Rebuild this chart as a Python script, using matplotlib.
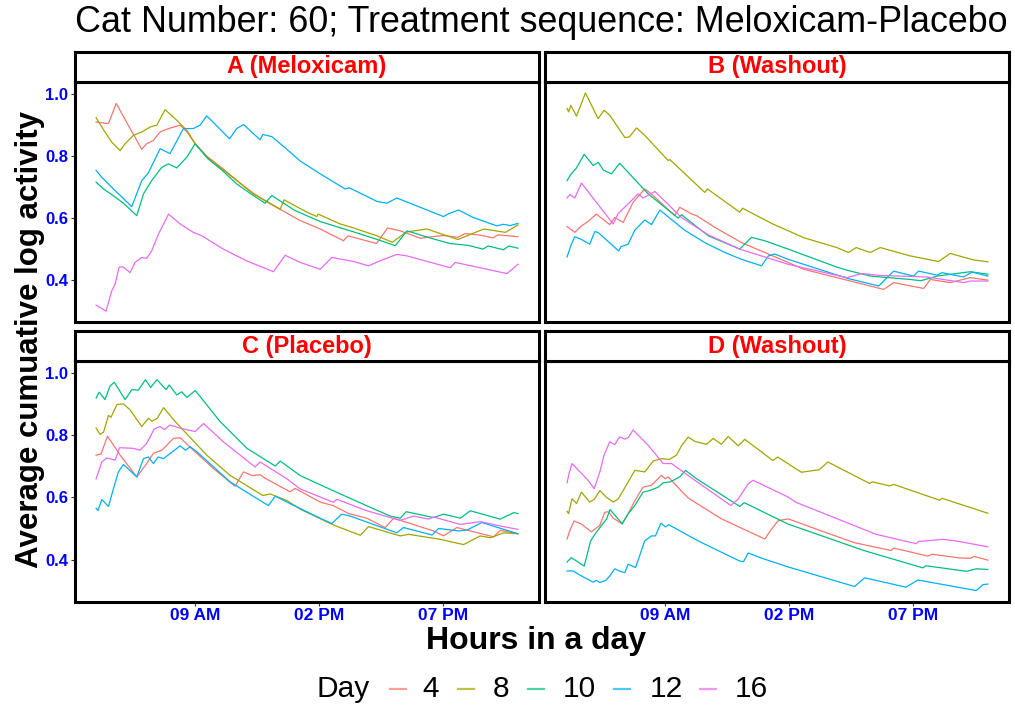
import matplotlib
matplotlib.use("Agg")
import matplotlib.pyplot as plt
from matplotlib.lines import Line2D

plt.rcParams['font.family'] = ['Liberation Sans', 'DejaVu Sans']

days = ["4", "8", "10", "12", "16"]
day_colors = ["#F8766D", "#A3A500", "#00BF7D", "#00B0F6", "#E76BF3"]
panel_titles = ["A (Meloxicam)", "B (Washout)", "C (Placebo)", "D (Washout)"]
hour_ticks = [9, 14, 19]
hour_labels = ["09 AM", "02 PM", "07 PM"]
value_ticks = [0.4, 0.6, 0.8, 1.0]

# hours of day and average cumulative log activity
panel_a = {
    "4": ([5.0, 5.5, 5.81, 6.84, 7.04, 7.3, 7.58, 7.92, 8.39, 8.66, 9.0, 9.46, 10.07, 10.67, 11.34, 11.9, 12.4,
           13.23, 14.03, 14.97, 15.15, 16.3, 16.75, 17.26, 18.07, 18.33, 19.0, 19.58, 19.86, 20.5, 21.0, 21.2, 22.0],
          [0.910, 0.905, 0.970, 0.822, 0.840, 0.850, 0.878, 0.889, 0.900, 0.878, 0.840, 0.800, 0.762, 0.722, 0.680,
           0.651, 0.629, 0.592, 0.565, 0.527, 0.543, 0.518, 0.568, 0.559, 0.535, 0.538, 0.544, 0.538, 0.550, 0.545,
           0.536, 0.546, 0.540]),
    "8": ([5.0, 5.3, 5.63, 5.97, 6.17, 6.5, 6.84, 7.18, 7.45, 7.78, 8.25, 8.66, 8.99, 9.46, 10.07, 10.67, 11.34,
           11.88, 12.42, 12.58, 13.5, 13.9, 13.95, 14.84, 15.31, 16.32, 16.94, 17.5, 18.33, 19.58, 20.63, 21.5, 22.0],
          [0.924, 0.885, 0.845, 0.818, 0.840, 0.867, 0.878, 0.894, 0.900, 0.950, 0.916, 0.883, 0.840, 0.797, 0.759,
           0.721, 0.678, 0.654, 0.629, 0.659, 0.619, 0.605, 0.613, 0.581, 0.570, 0.543, 0.522, 0.555, 0.565, 0.531,
           0.565, 0.554, 0.578]),
    "10": ([5.0, 5.3, 5.7, 6.1, 6.64, 6.91, 7.24, 7.65, 7.92, 8.25, 8.66, 8.99, 9.5, 10.07, 10.67, 11.3, 11.81,
            12.08, 13.0, 14.03, 15.24, 16.3, 17.06, 17.53, 18.5, 19.27, 20.0, 20.59, 20.8, 21.42, 21.63, 22.0],
           [0.716, 0.694, 0.672, 0.648, 0.608, 0.678, 0.721, 0.764, 0.775, 0.762, 0.797, 0.840, 0.792, 0.755, 0.710,
            0.675, 0.648, 0.673, 0.625, 0.589, 0.559, 0.532, 0.511, 0.559, 0.535, 0.518, 0.512, 0.500, 0.510, 0.498,
            0.510, 0.503]),
    "12": ([5.0, 5.23, 5.7, 6.44, 6.84, 7.1, 7.58, 7.98, 8.52, 8.92, 9.19, 9.46, 10.38, 10.67, 10.94, 11.61, 11.72,
            12.08, 12.69, 13.23, 14.03, 15.04, 15.2, 16.32, 16.72, 17.12, 19.0, 19.2, 19.61, 20.2, 21.15, 21.4, 21.7,
            22.0],
           [0.754, 0.732, 0.694, 0.637, 0.721, 0.745, 0.824, 0.808, 0.889, 0.889, 0.900, 0.930, 0.856, 0.889, 0.902,
            0.853, 0.870, 0.863, 0.822, 0.784, 0.743, 0.694, 0.698, 0.654, 0.648, 0.665, 0.605, 0.614, 0.626, 0.602,
            0.575, 0.580, 0.576, 0.583]),
    "16": ([5.0, 5.4, 5.63, 5.76, 5.93, 6.1, 6.37, 6.57, 6.84, 7.04, 7.24, 7.51, 7.92, 8.39, 8.92, 9.26, 10.13,
            11.07, 12.15, 12.62, 13.23, 14.03, 14.5, 15.38, 15.98, 16.38, 17.12, 17.53, 19.27, 19.48, 20.75, 21.56,
            22.0],
           [0.319, 0.300, 0.365, 0.386, 0.442, 0.442, 0.424, 0.457, 0.473, 0.470, 0.494, 0.548, 0.613, 0.581, 0.554,
            0.543, 0.500, 0.462, 0.427, 0.480, 0.457, 0.435, 0.473, 0.460, 0.446, 0.460, 0.483, 0.478, 0.440, 0.457,
            0.435, 0.421, 0.451]),
}

panel_b = {
    "4": ([5.04, 5.35, 5.62, 5.9, 6.22, 6.76, 6.96, 7.3, 7.7, 8.17, 8.44, 9.38, 9.58, 10.1, 10.26, 11.0, 12.07,
           13.95, 14.57, 15.91, 17.8, 18.2, 19.41, 19.68, 20.48, 21.29, 22.0],
          [0.573, 0.554, 0.575, 0.590, 0.613, 0.579, 0.602, 0.586, 0.651, 0.694, 0.678, 0.608, 0.635, 0.612, 0.608,
           0.570, 0.521, 0.457, 0.435, 0.408, 0.370, 0.392, 0.373, 0.402, 0.392, 0.408, 0.400]),
    "8": ([5.04, 5.1, 5.19, 5.42, 5.78, 6.29, 6.53, 6.76, 7.37, 7.55, 7.84, 8.17, 9.11, 9.18, 10.59, 10.7, 12.0,
           12.11, 13.28, 14.57, 15.91, 16.38, 16.69, 17.26, 17.66, 18.87, 20.01, 20.48, 21.43, 22.0],
          [0.954, 0.943, 0.964, 0.929, 1.004, 0.921, 0.948, 0.932, 0.860, 0.862, 0.891, 0.867, 0.786, 0.789, 0.683,
           0.694, 0.619, 0.632, 0.583, 0.537, 0.505, 0.489, 0.505, 0.489, 0.505, 0.478, 0.460, 0.486, 0.465, 0.459]),
    "10": ([5.04, 5.19, 5.42, 5.73, 6.09, 6.3, 6.5, 6.83, 7.16, 8.31, 9.52, 9.65, 10.73, 12.0, 12.47, 13.0, 13.95,
            15.91, 16.32, 17.26, 18.87, 19.3, 19.95, 21.29, 22.0],
           [0.721, 0.741, 0.762, 0.806, 0.770, 0.780, 0.755, 0.743, 0.777, 0.678, 0.600, 0.611, 0.543, 0.500, 0.538,
            0.527, 0.500, 0.442, 0.432, 0.413, 0.402, 0.398, 0.413, 0.427, 0.419]),
    "12": ([5.04, 5.19, 5.35, 5.6, 5.95, 6.16, 6.3, 7.12, 7.22, 7.5, 7.77, 8.17, 8.44, 8.78, 9.78, 10.59, 11.4,
            12.07, 12.88, 13.15, 13.41, 13.95, 16.32, 17.6, 18.2, 19.0, 19.21, 19.95, 20.15, 21.02, 21.36, 22.0],
           [0.475, 0.511, 0.540, 0.532, 0.516, 0.557, 0.553, 0.494, 0.508, 0.516, 0.561, 0.594, 0.579, 0.626, 0.561,
            0.521, 0.489, 0.467, 0.446, 0.478, 0.484, 0.467, 0.406, 0.381, 0.429, 0.413, 0.429, 0.416, 0.424, 0.410,
            0.426, 0.413]),
    "16": ([5.04, 5.15, 5.35, 5.62, 6.9, 7.1, 7.5, 7.9, 8.1, 8.58, 9.65, 10.73, 12.0, 13.95, 16.32, 16.92, 17.66,
            19.54, 21.02, 21.3, 22.0],
           [0.665, 0.676, 0.665, 0.713, 0.581, 0.615, 0.646, 0.678, 0.665, 0.686, 0.602, 0.546, 0.500, 0.451, 0.408,
            0.421, 0.415, 0.410, 0.392, 0.397, 0.397]),
}

panel_c = {
    "4": ([5.0, 5.2, 5.46, 5.97, 6.64, 7.04, 7.31, 7.65, 8.12, 8.39, 8.92, 9.73, 10.6, 10.94, 11.3, 11.61, 11.85,
           12.82, 13.02, 14.03, 14.57, 15.18, 15.91, 16.65, 16.99, 18.6, 19.0, 19.54, 21.02, 21.29, 22.0],
          [0.736, 0.740, 0.797, 0.736, 0.666, 0.709, 0.742, 0.752, 0.790, 0.792, 0.752, 0.693, 0.636, 0.682, 0.670,
           0.673, 0.660, 0.618, 0.629, 0.585, 0.573, 0.548, 0.533, 0.503, 0.533, 0.492, 0.476, 0.503, 0.473, 0.494,
           0.483]),
    "8": ([5.0, 5.16, 5.3, 5.5, 5.6, 5.84, 6.1, 6.37, 6.84, 7.11, 7.25, 7.47, 7.72, 8.19, 9.46, 10.4, 11.72, 12.02,
           12.69, 13.23, 14.57, 15.65, 15.98, 17.26, 17.6, 18.87, 19.81, 20.48, 20.9, 21.42, 22.0],
          [0.823, 0.803, 0.810, 0.864, 0.858, 0.899, 0.901, 0.882, 0.828, 0.855, 0.845, 0.855, 0.889, 0.844, 0.736,
           0.671, 0.606, 0.611, 0.590, 0.562, 0.511, 0.478, 0.506, 0.476, 0.481, 0.465, 0.448, 0.476, 0.470, 0.486,
           0.483]),
    "10": ([5.0, 5.12, 5.36, 5.56, 5.73, 6.17, 6.44, 6.7, 6.99, 7.2, 7.45, 7.82, 7.95, 8.25, 8.45, 8.66, 8.99, 9.19,
            10.0, 11.08, 12.22, 12.42, 13.23, 14.57, 15.91, 16.85, 17.26, 17.5, 18.6, 19.0, 19.68, 20.08, 21.29,
            21.83, 22.0],
           [0.920, 0.939, 0.915, 0.958, 0.971, 0.915, 0.947, 0.945, 0.979, 0.954, 0.979, 0.947, 0.962, 0.930, 0.940,
            0.922, 0.944, 0.925, 0.844, 0.758, 0.701, 0.717, 0.670, 0.621, 0.573, 0.540, 0.533, 0.554, 0.535, 0.546,
            0.533, 0.557, 0.530, 0.551, 0.548]),
    "12": ([5.0, 5.08, 5.23, 5.5, 5.7, 5.9, 6.1, 6.64, 6.91, 7.11, 7.31, 7.5, 7.72, 7.98, 8.39, 8.6, 8.79, 9.06,
            10.4, 11.75, 11.95, 12.22, 12.69, 14.03, 14.5, 14.9, 15.2, 17.12, 17.39, 18.54, 18.8, 19.61, 19.95, 20.55,
            22.0],
           [0.565, 0.558, 0.593, 0.571, 0.628, 0.682, 0.706, 0.666, 0.725, 0.730, 0.709, 0.730, 0.725, 0.741, 0.766,
            0.752, 0.763, 0.747, 0.650, 0.583, 0.574, 0.604, 0.585, 0.533, 0.516, 0.546, 0.541, 0.486, 0.503, 0.479,
            0.500, 0.492, 0.495, 0.519, 0.483]),
    "16": ([5.0, 5.23, 5.43, 5.77, 5.94, 6.5, 6.77, 7.04, 7.34, 7.58, 7.75, 7.98, 8.39, 8.99, 9.33, 10.13, 11.41,
            11.61, 12.69, 13.23, 14.57, 14.7, 15.91, 17.26, 17.8, 18.4, 18.6, 19.68, 20.48, 21.29, 22.0],
           [0.660, 0.714, 0.727, 0.720, 0.760, 0.758, 0.752, 0.774, 0.820, 0.828, 0.818, 0.833, 0.823, 0.812, 0.838,
            0.779, 0.698, 0.714, 0.660, 0.627, 0.584, 0.594, 0.557, 0.526, 0.540, 0.530, 0.537, 0.513, 0.522, 0.508,
            0.497]),
}

panel_d = {
    "4": ([5.04, 5.15, 5.32, 5.62, 6.02, 6.36, 6.56, 6.7, 6.9, 7.26, 7.5, 7.74, 8.1, 8.44, 8.84, 9.0, 9.11, 9.92,
           11.26, 13.01, 13.28, 13.55, 13.95, 15.22, 16.63, 18.1, 18.2, 19.58, 19.75, 20.86, 21.3, 21.45, 22.0],
          [0.466, 0.493, 0.524, 0.514, 0.489, 0.510, 0.552, 0.554, 0.533, 0.515, 0.547, 0.585, 0.633, 0.639, 0.671,
           0.660, 0.666, 0.598, 0.531, 0.466, 0.498, 0.525, 0.531, 0.494, 0.454, 0.429, 0.437, 0.411, 0.417, 0.405,
           0.404, 0.410, 0.398]),
    "8": ([5.04, 5.1, 5.24, 5.42, 5.62, 5.95, 6.15, 6.36, 6.63, 6.9, 7.1, 7.3, 7.77, 8.17, 8.51, 8.84, 9.15, 9.45,
           9.65, 9.92, 10.2, 10.66, 10.93, 11.26, 11.53, 11.94, 12.2, 13.33, 13.53, 14.48, 15.2, 15.55, 17.23, 17.35,
           18.04, 18.2, 20.05, 20.15, 22.0],
          [0.555, 0.548, 0.596, 0.580, 0.617, 0.585, 0.595, 0.622, 0.600, 0.585, 0.595, 0.622, 0.687, 0.682, 0.717,
           0.725, 0.722, 0.736, 0.766, 0.794, 0.780, 0.771, 0.790, 0.771, 0.796, 0.766, 0.787, 0.719, 0.730, 0.681,
           0.689, 0.714, 0.645, 0.650, 0.637, 0.642, 0.591, 0.597, 0.549]),
    "10": ([5.04, 5.21, 5.73, 5.99, 6.16, 6.42, 6.63, 6.77, 7.26, 7.5, 7.77, 8.1, 8.37, 8.71, 8.91, 9.2, 9.58, 9.81,
            10.26, 11.0, 12.0, 12.18, 13.95, 17.0, 19.38, 19.5, 21.13, 21.53, 22.0],
           [0.392, 0.406, 0.379, 0.460, 0.481, 0.509, 0.530, 0.561, 0.515, 0.547, 0.574, 0.617, 0.622, 0.633, 0.647,
            0.650, 0.666, 0.687, 0.660, 0.622, 0.571, 0.583, 0.514, 0.429, 0.373, 0.380, 0.362, 0.370, 0.368]),
    "12": ([5.04, 5.28, 5.62, 6.09, 6.22, 6.36, 6.6, 6.76, 6.96, 7.15, 7.37, 7.5, 7.8, 8.17, 8.44, 8.6, 8.82, 9.0,
            9.14, 10.32, 12.0, 12.15, 12.34, 12.93, 13.95, 16.63, 17.03, 18.7, 19.18, 21.53, 21.8, 22.0],
           [0.363, 0.363, 0.347, 0.327, 0.333, 0.326, 0.333, 0.347, 0.370, 0.363, 0.358, 0.385, 0.374, 0.460, 0.476,
            0.476, 0.517, 0.505, 0.512, 0.460, 0.395, 0.393, 0.421, 0.403, 0.376, 0.313, 0.341, 0.311, 0.334, 0.300,
            0.319, 0.321]),
    "16": ([5.04, 5.12, 5.24, 5.62, 5.89, 6.13, 6.36, 6.53, 6.76, 6.96, 7.16, 7.35, 7.5, 7.7, 8.31, 8.91, 9.25,
            10.19, 11.64, 11.94, 12.34, 12.54, 13.95, 14.27, 17.5, 19.11, 19.2, 20.19, 20.7, 22.0],
           [0.647, 0.677, 0.709, 0.677, 0.655, 0.628, 0.682, 0.736, 0.779, 0.770, 0.795, 0.788, 0.792, 0.817, 0.768,
            0.709, 0.709, 0.655, 0.574, 0.595, 0.644, 0.655, 0.601, 0.584, 0.481, 0.451, 0.458, 0.465, 0.460, 0.441]),
}

panels = [panel_a, panel_b, panel_c, panel_d]

# shared scales like facet_wrap, with ggplot's 5% expansion
all_t = [t for p in panels for d in days for t in p[d][0]]
all_v = [v for p in panels for d in days for v in p[d][1]]
tpad = 0.05 * (max(all_t) - min(all_t))
vpad = 0.05 * (max(all_v) - min(all_v))
xlim = (min(all_t) - tpad, max(all_t) + tpad)
ylim = (min(all_v) - vpad, max(all_v) + vpad)

W, H = 1015, 708
fig = plt.figure(figsize=(W / 100, H / 100), dpi=100)


def px_box(x0, y0, x1, y1):
    return [x0 / W, 1 - y1 / H, (x1 - x0) / W, (y1 - y0) / H]


cols = [(75, 539), (545, 1009)]
rows = [(52, 82, 322), (331, 361, 601.5)]

for i, (data, title) in enumerate(zip(panels, panel_titles)):
    r, c = divmod(i, 2)
    x0, x1 = cols[c]
    s0, p0, p1 = rows[r]
    ax = fig.add_axes(px_box(x0, p0, x1, p1))
    for d, col in zip(days, day_colors):
        ax.plot(data[d][0], data[d][1], color=col, lw=0.9)
    ax.set_xlim(xlim)
    ax.set_ylim(ylim)
    ax.set_xticks(hour_ticks)
    ax.set_yticks(value_ticks)
    ax.tick_params(length=3, width=0.8, color="#333333", pad=2)
    if r == 1:
        ax.set_xticklabels(hour_labels, color="blue", fontweight="bold", fontsize=12.5)
    else:
        ax.tick_params(axis="x", length=0, labelbottom=False)
    if c == 0:
        ax.set_yticklabels([f"{v:.1f}" for v in value_ticks], color="blue", fontweight="bold", fontsize=12)
    else:
        ax.tick_params(axis="y", length=0, labelleft=False)
    for sp in ax.spines.values():
        sp.set_linewidth(2.2)
        sp.set_color("black")

    st = fig.add_axes(px_box(x0, s0, x1, p0))
    st.set_xticks([])
    st.set_yticks([])
    for sp in st.spines.values():
        sp.set_linewidth(2.2)
    st.text(0.5, 0.5, title, transform=st.transAxes, ha="center", va="center",
            color="red", fontweight="bold", fontsize=17)

fig.text(75 / W, 1 - 22 / H, "Cat Number: 60; Treatment sequence: Meloxicam-Placebo",
         ha="left", va="center", fontsize=25.8)
fig.text(30 / W, 1 - 340 / H, "Average cumuative log activity", rotation=90,
         ha="center", va="center", fontsize=22.5, fontweight="bold")
fig.text(536 / W, 1 - 641 / H, "Hours in a day", ha="center", va="center",
         fontsize=23, fontweight="bold")

# legend along the bottom
ly = 1 - 689 / H
fig.text(343 / W, ly, "Day", ha="center", va="center", fontsize=21.5)
key_x = [390, 458, 528, 614, 700]
lab_x = [431, 501, 579, 666, 751]
for d, col, kx, lx in zip(days, day_colors, key_x, lab_x):
    fig.add_artist(Line2D([kx / W, (kx + 16) / W], [ly, ly], color=col, lw=1.6, alpha=0.7))
    fig.text(lx / W, ly, d, ha="center", va="center", fontsize=21.5)

fig.savefig("out.png", dpi=100)
